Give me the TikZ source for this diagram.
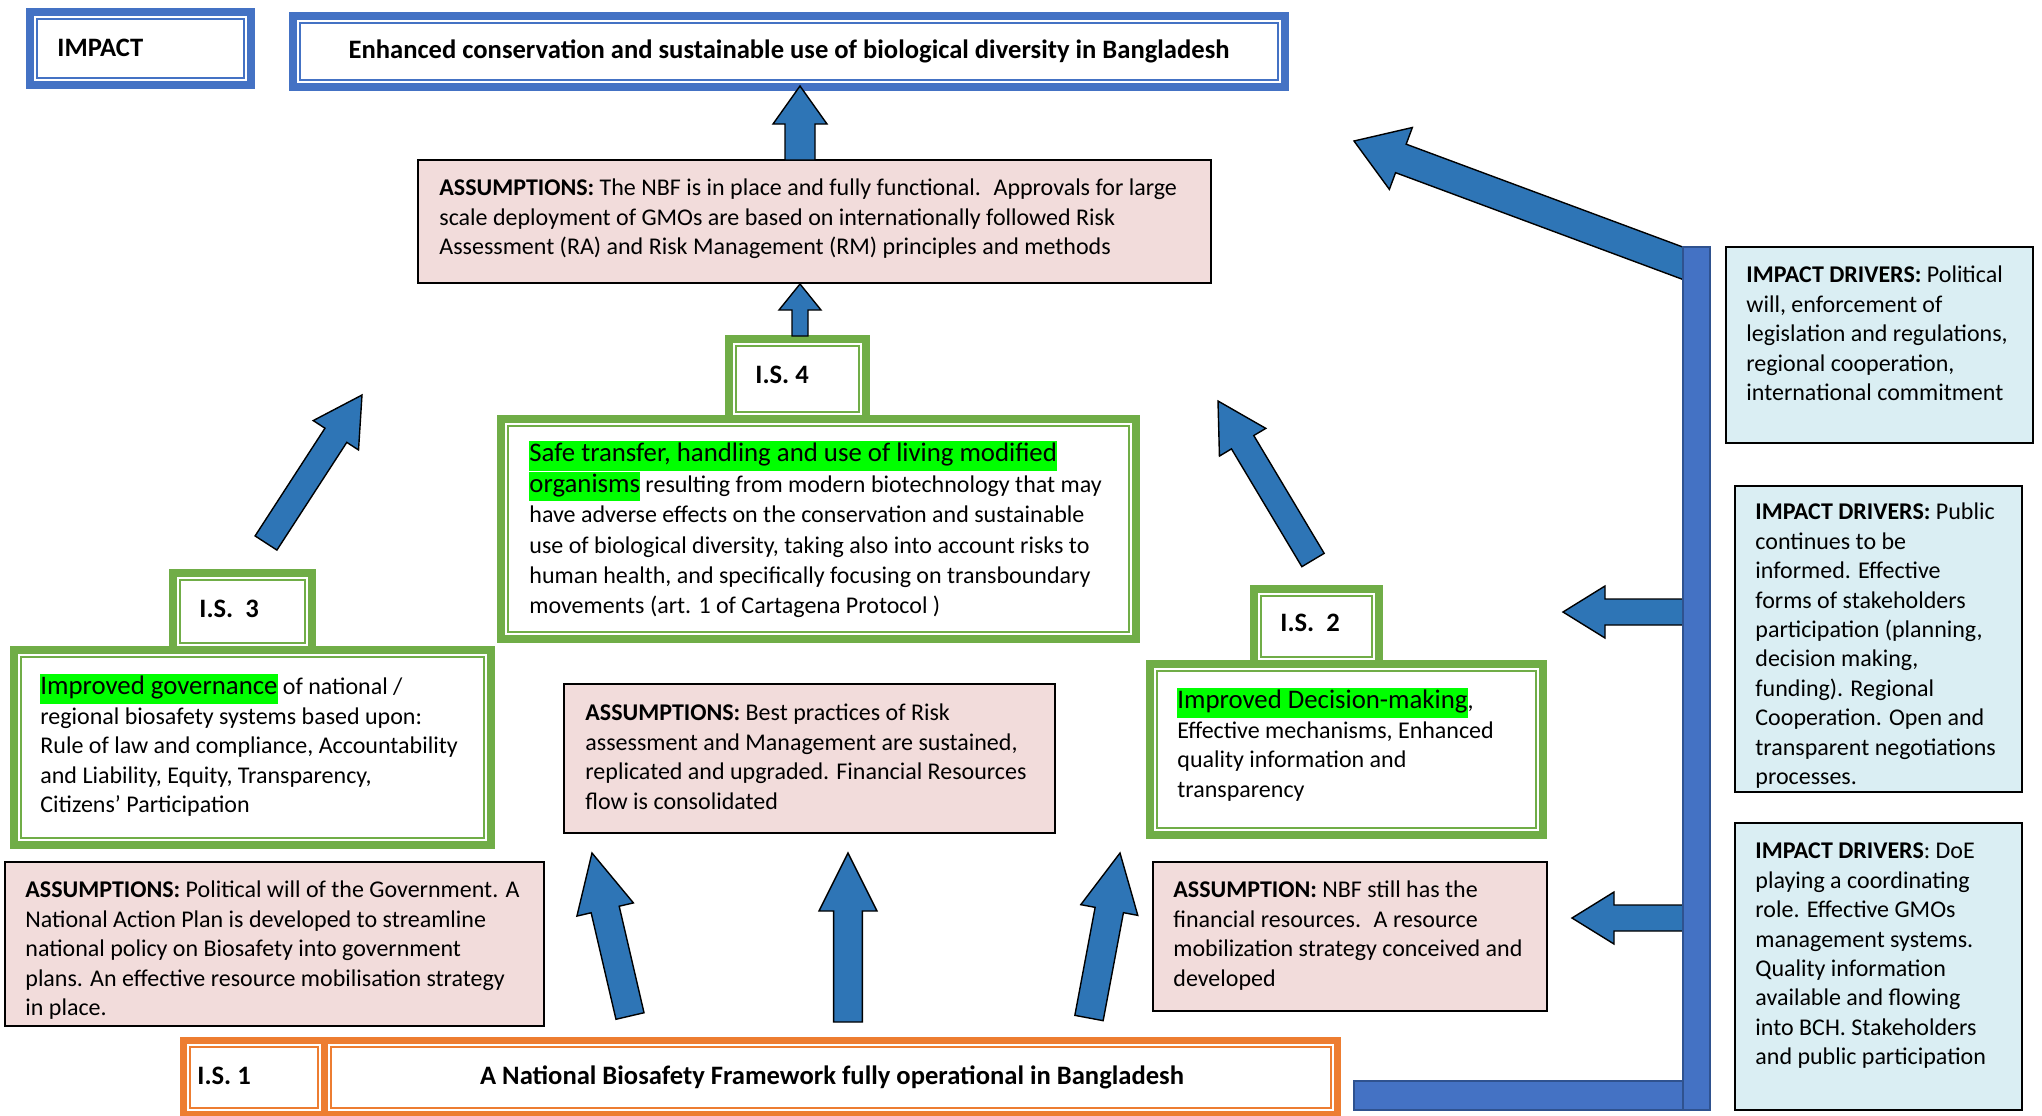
\documentclass[tikz,border=0pt]{standalone}
\usepackage{fontspec}
\setmainfont{Carlito}
\usetikzlibrary{calc,fit}
\definecolor{gbord}{HTML}{70AD47}
\definecolor{bbord}{HTML}{4472C4}
\definecolor{obord}{HTML}{ED7D31}
\definecolor{pinkfill}{HTML}{F2DCDB}
\definecolor{bluefill}{HTML}{DAEEF3}
\definecolor{arrowblue}{HTML}{2E75B6}
\definecolor{barblue}{HTML}{4472C4}
\definecolor{baredge}{HTML}{2F528F}
\definecolor{hlgreen}{HTML}{00FF00}
\newcommand\hlt[1]{{\setlength{\fboxsep}{0pt}\colorbox{hlgreen}{\fontsize{13.4}{14.7}\selectfont\strut #1}}}
\newcommand\blockarr[5]{%
  \coordinate (#1-#2-n) at ($(#2)!#5!(#1)$);
  \draw[blockarrow] ($(#1)!#3!90:(#2)$) -- ($(#1-#2-n)!#3!90:(#2)$) -- ($(#1-#2-n)!#4!90:(#2)$) -- (#2) -- ($(#1-#2-n)!#4!-90:(#2)$) -- ($(#1-#2-n)!#3!-90:(#2)$) -- ($(#1)!#3!-90:(#2)$) -- cycle;
}
\tikzset{
  body/.style={anchor=north west, inner sep=0pt, align=left, font=\fontsize{12}{14.7}\selectfont},
  lbl/.style={anchor=base west, inner sep=0pt, font=\fontsize{13.3}{16}\selectfont\bfseries},
  region/.style={inner sep=0pt, outer sep=0pt, draw=none},
  pinkbox/.style={region, fill=pinkfill, draw=black, line width=0.8pt},
  drvbox/.style={region, fill=bluefill, draw=black, line width=0.8pt},
  blockarrow/.style={fill=arrowblue, draw=black, line width=0.7pt, line join=miter},
  thinline/.style={line width=1pt},
}
\begin{document}
\begin{tikzpicture}[x=0.5pt, y=-0.5pt]
\useasboundingbox (0,0) rectangle (2042,1115);
\fill[white] (0,0) rectangle (2042,1115);
\clip (0,0) rectangle (2042,1115);

% ---------- blue impact boxes ----------
\node[region, fit={(26,8)(255,89)}] (impl) {};
\node[region, fit={(289,12)(1289,91)}] (imp) {};
\foreach \n in {impl,imp}{
  \fill[bbord] (\n.north west) rectangle (\n.south east);
  \fill[white] ([shift={(8,8)}]\n.north west) rectangle ([shift={(-8,-8)}]\n.south east);
  \draw[bbord, thinline] ([shift={(11,11)}]\n.north west) rectangle ([shift={(-11,-11)}]\n.south east);
}

% ---------- green boxes with tabs ----------
\node[region, fit={(725,335)(870,415)}] (is4tab) {};
\node[region, fit={(497,415)(1140,643)}] (is4) {};
\node[region, fit={(169,569)(316,646)}] (is3tab) {};
\node[region, fit={(10,646)(495,849)}] (is3) {};
\node[region, fit={(1250,585)(1383,660)}] (is2tab) {};
\node[region, fit={(1146,660)(1547,839)}] (is2) {};
\foreach \t/\m in {is4tab/is4, is3tab/is3, is2tab/is2}{
  \fill[gbord] (\t.north west) rectangle (\t.south east);
  \fill[gbord] (\m.north west) rectangle (\m.south east);
  \fill[white] ([shift={(8,8)}]\t.north west) rectangle ([shift={(-8,0)}]\t.south east);
  \fill[white] ([shift={(8,8)}]\m.north west) rectangle ([shift={(-8,-8)}]\m.south east);
  \draw[gbord, thinline] ([shift={(11,11)}]\t.north west) rectangle ([shift={(-11,-3)}]\t.south east);
  \draw[gbord, thinline] ([shift={(11,11)}]\m.north west) rectangle ([shift={(-11,-11)}]\m.south east);
}

% ---------- pink assumption boxes ----------
\node[pinkbox, fit={(418,160)(1211,283)}] (ass4) {};
\node[pinkbox, fit={(564,684)(1055,833)}] (assm) {};
\node[pinkbox, fit={(5,862)(544,1026)}] (assl) {};
\node[pinkbox, fit={(1153,862)(1547,1011)}] (assr) {};

% ---------- impact driver boxes ----------
\node[drvbox, fit={(1726,247)(2033,443)}] (drv1) {};
\node[drvbox, fit={(1735,486)(2022,792)}] (drv2) {};
\node[drvbox, fit={(1735,823)(2022,1110)}] (drv3) {};

% ---------- orange IS1 box ----------
\node[region, fit={(180,1037)(1341,1120)}] (is1) {};
\node[region, fit={(187,1044)(321,1111)}] (is1a) {};
\node[region, fit={(328,1044)(1334,1111)}] (is1b) {};
\fill[obord] (is1.north west) rectangle (is1.south east);
\foreach \n in {is1a,is1b}{
  \fill[white] (\n.north west) rectangle (\n.south east);
  \draw[obord, thinline] ([shift={(3,3)}]\n.north west) rectangle ([shift={(-3,-3)}]\n.south east);
}

% ---------- block arrows ----------
\coordinate (a0t) at (800,160); \coordinate (a0h) at (800,86);
\blockarr{a0t}{a0h}{7.5pt}{13.5pt}{19pt}
\coordinate (a1t) at (800,336); \coordinate (a1h) at (800,284);
\blockarr{a1t}{a1h}{4pt}{10.5pt}{13pt}
\coordinate (a3t) at (266,543); \coordinate (a3h) at (362,395);
\blockarr{a3t}{a3h}{6.5pt}{13.5pt}{24pt}
\coordinate (a2t) at (1313,560); \coordinate (a2h) at (1218,401);
\blockarr{a2t}{a2h}{6.5pt}{13.5pt}{24pt}
\coordinate (b1t) at (630,1016); \coordinate (b1h) at (592,853);
\blockarr{b1t}{b1h}{7.2pt}{14.5pt}{29pt}
\coordinate (b2t) at (848,1022); \coordinate (b2h) at (848,853);
\blockarr{b2t}{b2h}{7.2pt}{14.5pt}{29pt}
\coordinate (b3t) at (1089,1018); \coordinate (b3h) at (1120,853);
\blockarr{b3t}{b3h}{7.2pt}{14.5pt}{29pt}
\coordinate (d1t) at (1697,268.5); \coordinate (d1h) at (1354,141);
\blockarr{d1t}{d1h}{7.6pt}{16.5pt}{25pt}
\coordinate (d2t) at (1697,612); \coordinate (d2h) at (1563,612);
\blockarr{d2t}{d2h}{6.5pt}{13pt}{21pt}
\coordinate (d3t) at (1697,918); \coordinate (d3h) at (1572,918);
\blockarr{d3t}{d3h}{6.5pt}{13pt}{21pt}

% ---------- driver bars ----------
\node[region, fit={(1354,1081)(1697,1110)}] (hbar) {};
\node[region, fit={(1683,247)(1710,1110)}] (vbar) {};
\draw[fill=barblue, draw=baredge, line width=0.6pt] (hbar.north west) rectangle (hbar.south east);
\draw[fill=barblue, draw=baredge, line width=0.6pt] (vbar.north west) rectangle (vbar.south east);

% ---------- texts ----------
\node[lbl] (t-impl) at (57,56) {IMPACT};
\node[lbl, anchor=base] (t-imp) at (789,58) {Enhanced conservation and sustainable use of biological diversity in Bangladesh};
\node[lbl] (t-is4) at (755,383) {I.S. 4};
\node[lbl] (t-is3) at (199,617) {I.S.\ \ 3};
\node[lbl] (t-is2) at (1280,631) {I.S.\ \ 2};
\node[lbl] (t-is1) at (197,1084) {I.S. 1};
\node[lbl, anchor=base] (t-is1b) at (832,1084) {A National Biosafety Framework fully operational in Bangladesh};

\node[body] (t-ass4) at (439,175) {\strut\textbf{ASSUMPTIONS:} The NBF is in place and fully functional.~ Approvals for large\\scale deployment of GMOs are based on internationally followed Risk\\Assessment (RA) and Risk Management (RM) principles and methods};

\node[body, font=\fontsize{12}{15.2}\selectfont] (t-is4b) at (529,441) {\hlt{Safe transfer, handling and use of living modified}\\\hlt{organisms} resulting from modern biotechnology that may\\have adverse effects on the conservation and sustainable\\use of biological diversity, taking also into account risks to\\human health, and specifically focusing on transboundary\\movements (art. 1 of Cartagena Protocol )};

\node[body] (t-is3b) at (40,674) {\hlt{Improved governance} of national /\\regional biosafety systems based upon:\\Rule of law and compliance, Accountability\\and Liability, Equity, Transparency,\\Citizens’ Participation};

\node[body] (t-is2b) at (1177,688) {\hlt{Improved Decision-making},\\Effective mechanisms, Enhanced\\quality information and\\transparency};

\node[body] (t-assm) at (585,700) {\strut\textbf{ASSUMPTIONS:} Best practices of Risk\\assessment and Management are sustained,\\replicated and upgraded. Financial Resources\\flow is consolidated};

\node[body] (t-assl) at (25,877) {\strut\textbf{ASSUMPTIONS:} Political will of the Government. A\\National Action Plan is developed to streamline\\national policy on Biosafety into government\\plans. An effective resource mobilisation strategy\\in place.};

\node[body] (t-assr) at (1173,877) {\strut\textbf{ASSUMPTION:} NBF still has the\\financial resources.~ A resource\\mobilization strategy conceived and\\developed};

\node[body] (t-drv1) at (1746,262) {\strut\textbf{IMPACT DRIVERS:} Political\\will, enforcement of\\legislation and regulations,\\regional cooperation,\\international commitment};

\node[body] (t-drv2) at (1755,499) {\strut\textbf{IMPACT DRIVERS:} Public\\continues to be\\informed. Effective\\forms of stakeholders\\participation (planning,\\decision making,\\funding). Regional\\Cooperation. Open and\\transparent negotiations\\processes.};

\node[body] (t-drv3) at (1755,838) {\strut\textbf{IMPACT DRIVERS}: DoE\\playing a coordinating\\role. Effective GMOs\\management systems.\\Quality information\\available and flowing\\into BCH. Stakeholders\\and public participation};
\end{tikzpicture}
\end{document}
